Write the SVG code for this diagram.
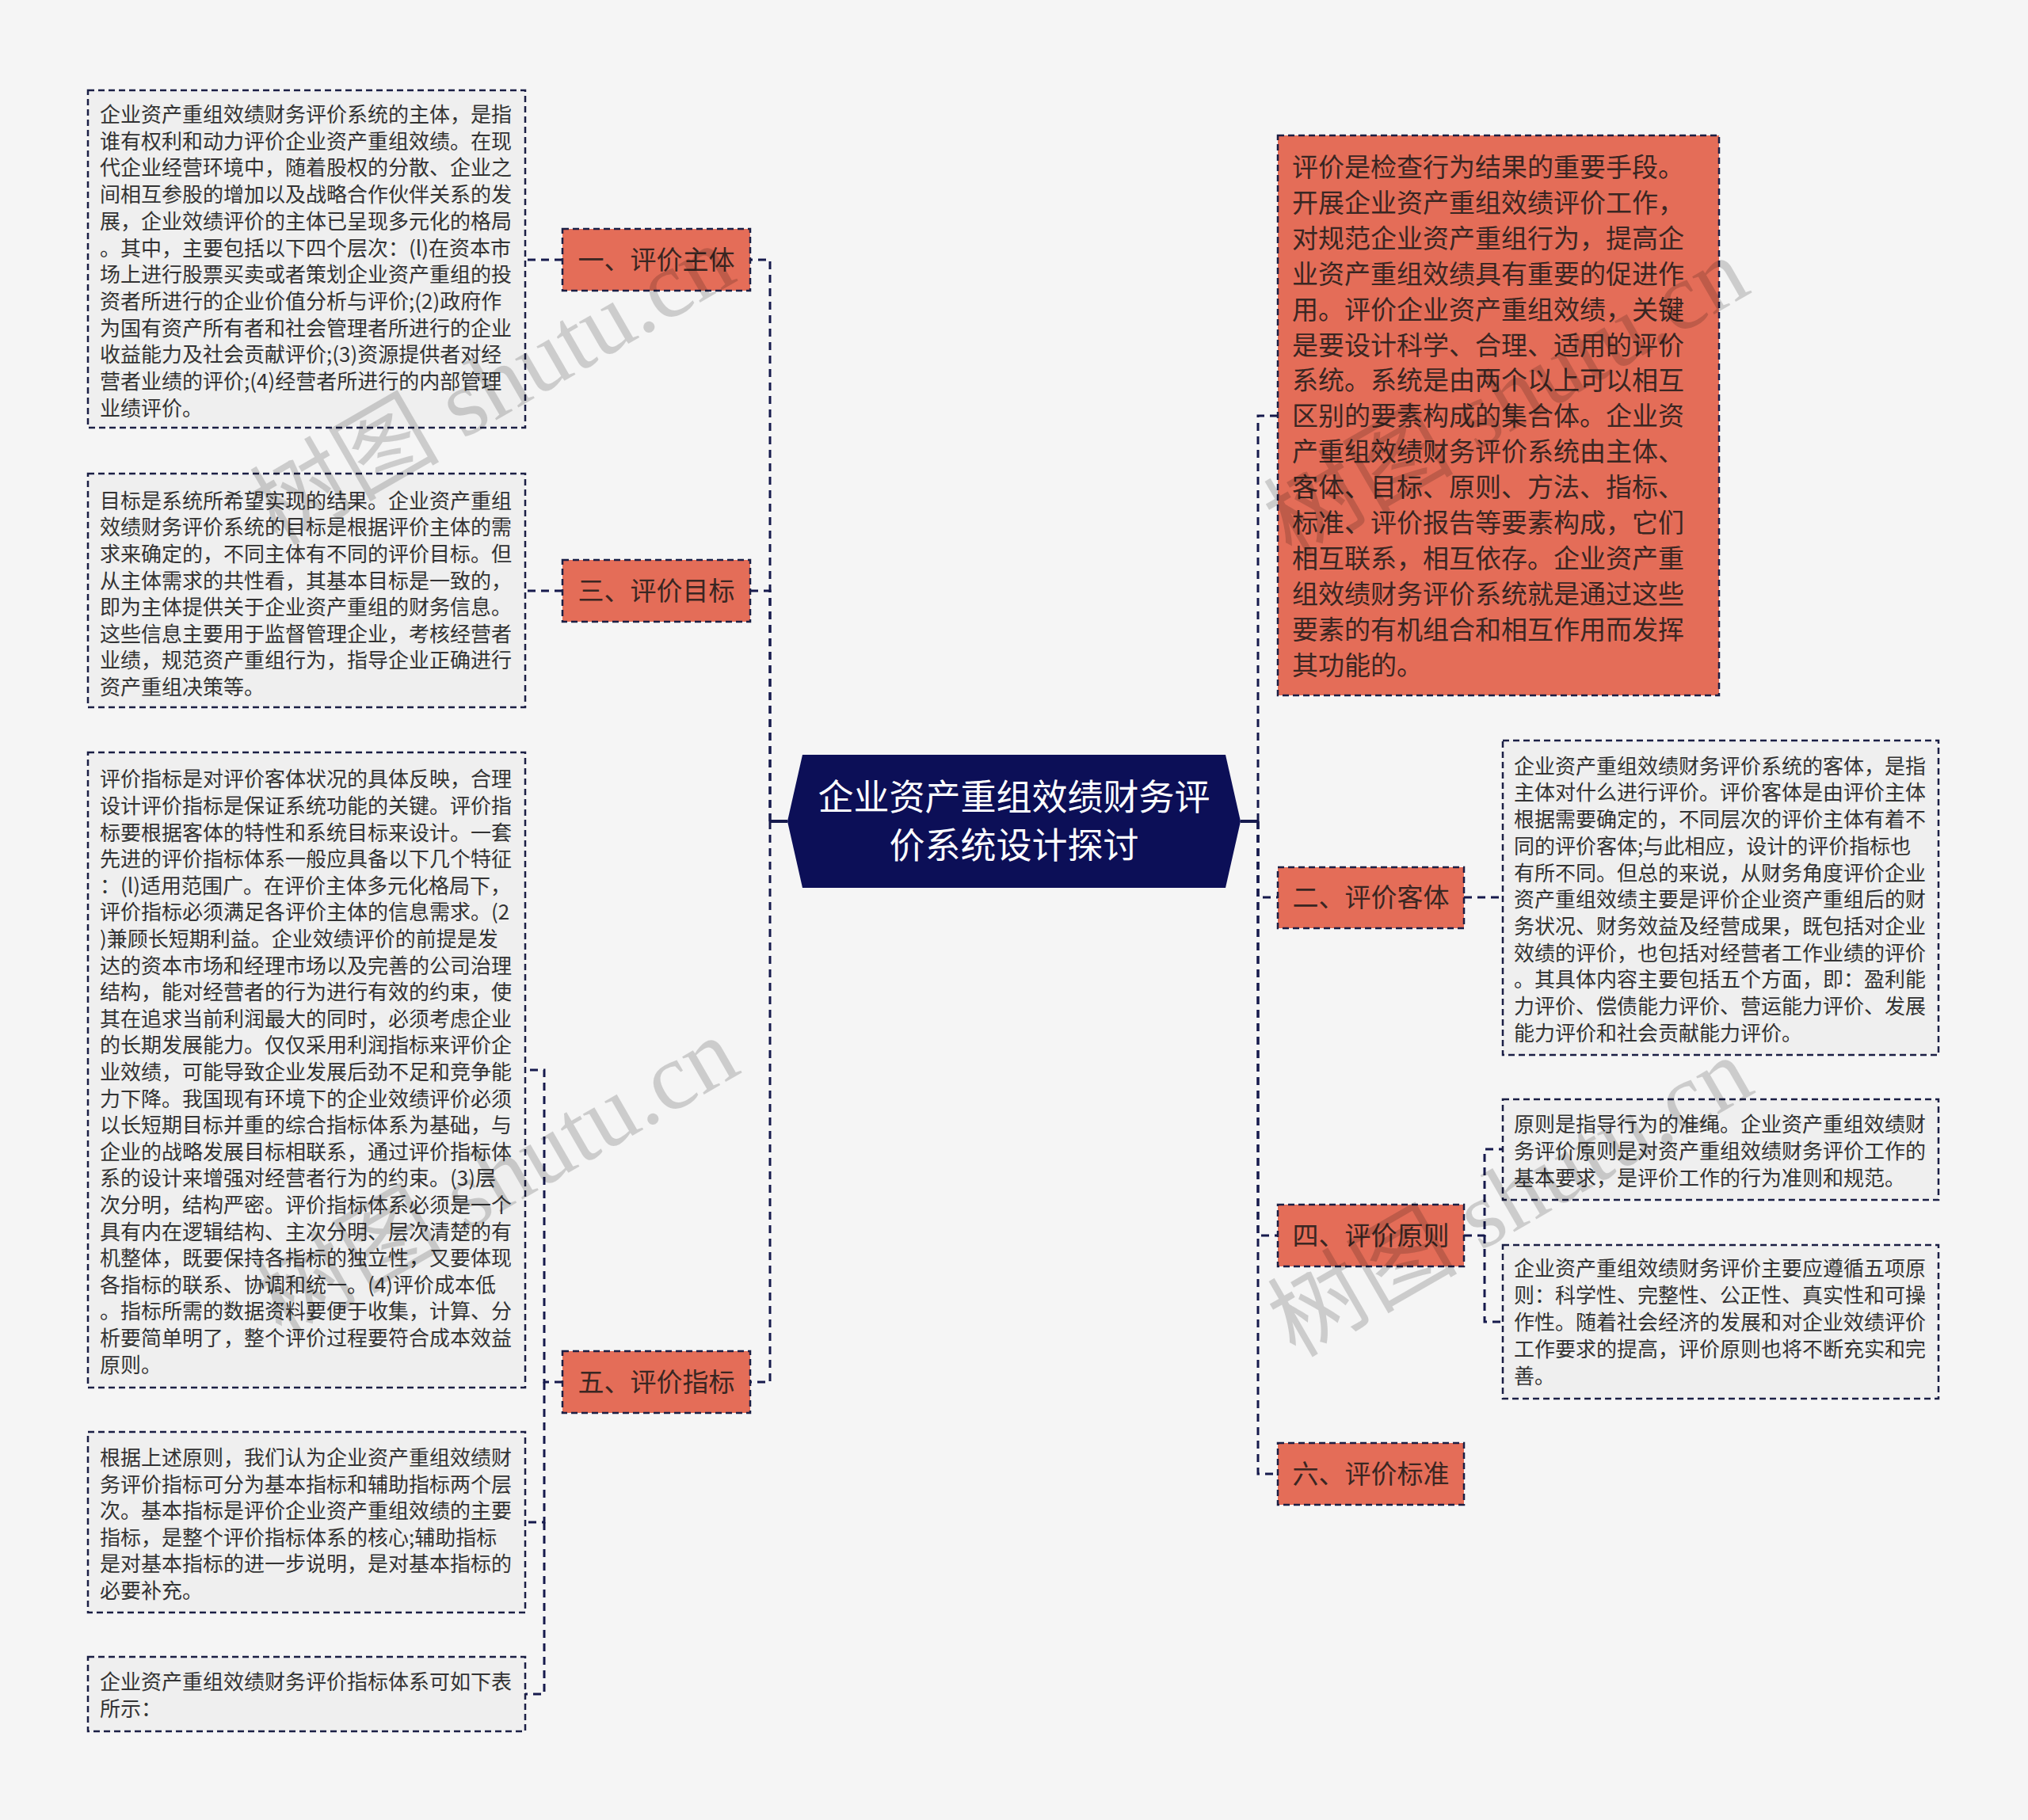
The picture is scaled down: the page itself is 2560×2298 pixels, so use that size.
<svg xmlns="http://www.w3.org/2000/svg" width="2560" height="2298" viewBox="0 0 2560 2298">
<style>
.bg{fill:#f5f5f5}
.conn{fill:none;stroke:#161a4d;stroke-width:3;stroke-dasharray:10 7}
.solid{fill:none;stroke:#161a4d;stroke-width:4}
.box{fill:#efefef;stroke:#1b1f45;stroke-width:2.5;stroke-dasharray:8 5}
.red{fill:#e46d58;stroke:#1b1f45;stroke-width:2.5;stroke-dasharray:8 5}
.t{font-family:"Noto Sans CJK SC","Noto Sans",sans-serif;font-size:26px;fill:#333}
.rt{font-family:"Noto Sans CJK SC","Noto Sans",sans-serif;font-size:33px;fill:#3a2622}
.lbl{font-family:"Noto Sans CJK SC","Noto Sans",sans-serif;font-size:33px;fill:#3a2622;text-anchor:middle}
.ct{font-family:"Noto Sans CJK SC","Noto Sans",sans-serif;font-size:45px;fill:#ffffff;text-anchor:middle}
.wm{font-family:"Liberation Serif","Noto Sans CJK SC",serif;font-size:120px;fill:#000;opacity:0.16}
</style>
<rect class="bg" x="0" y="0" width="2560" height="2298"/>

<g id="connectors">
<path class="solid" d="M994,1037 H972"/>
<path class="solid" d="M1566,1037 H1588"/>
<path class="conn" d="M972,1037 V328 H947"/>
<path class="conn" d="M972,1037 V746 H947"/>
<path class="conn" d="M972,1037 V1745 H947"/>
<path class="conn" d="M710,328 H663"/>
<path class="conn" d="M710,746 H663"/>
<path class="conn" d="M710,1745 H687 V1351 H663"/>
<path class="conn" d="M687,1745 V1922 H663"/>
<path class="conn" d="M687,1922 V2139 H663"/>
<path class="conn" d="M1588,1037 V525 H1613"/>
<path class="conn" d="M1588,1037 V1133 H1613"/>
<path class="conn" d="M1588,1037 V1560 H1613"/>
<path class="conn" d="M1588,1037 V1861 H1613"/>
<path class="conn" d="M1848,1133 H1897"/>
<path class="conn" d="M1848,1560 H1874 V1451 H1897"/>
<path class="conn" d="M1874,1560 V1669 H1897"/>
</g>

<g id="center">
<polygon points="1013,953 1547,953 1566,1037 1547,1121 1013,1121 994,1037" fill="#0c0f57"/>
<text class="ct" x="1280" y="1023">企业资产重组效绩财务评</text>
<text class="ct" x="1280" y="1084">价系统设计探讨</text>
</g>

<g id="node-zhuti">
<rect class="red" x="710" y="289" width="237" height="78"/>
<text class="lbl" x="828.5" y="340">一、评价主体</text>
</g>
<g id="node-mubiao">
<rect class="red" x="710" y="707" width="237" height="78"/>
<text class="lbl" x="828.5" y="758">三、评价目标</text>
</g>
<g id="node-zhibiao">
<rect class="red" x="710" y="1706" width="237" height="78"/>
<text class="lbl" x="828.5" y="1757">五、评价指标</text>
</g>
<g id="node-keti">
<rect class="red" x="1613" y="1095" width="235" height="77"/>
<text class="lbl" x="1730.5" y="1145">二、评价客体</text>
</g>
<g id="node-yuanze">
<rect class="red" x="1613" y="1521" width="235" height="78"/>
<text class="lbl" x="1730.5" y="1572">四、评价原则</text>
</g>
<g id="node-biaozhun">
<rect class="red" x="1613" y="1822" width="235" height="78"/>
<text class="lbl" x="1730.5" y="1873">六、评价标准</text>
</g>

<g id="node-intro">
<rect class="red" x="1613" y="171" width="557" height="707"/>
<text class="rt">
<tspan x="1631" y="223">评价是检查行为结果的重要手段。</tspan>
<tspan x="1631" y="267.9">开展企业资产重组效绩评价工作，</tspan>
<tspan x="1631" y="312.8">对规范企业资产重组行为，提高企</tspan>
<tspan x="1631" y="357.7">业资产重组效绩具有重要的促进作</tspan>
<tspan x="1631" y="402.6">用。评价企业资产重组效绩，关键</tspan>
<tspan x="1631" y="447.5">是要设计科学、合理、适用的评价</tspan>
<tspan x="1631" y="492.4">系统。系统是由两个以上可以相互</tspan>
<tspan x="1631" y="537.3">区别的要素构成的集合体。企业资</tspan>
<tspan x="1631" y="582.2">产重组效绩财务评价系统由主体、</tspan>
<tspan x="1631" y="627.1">客体、目标、原则、方法、指标、</tspan>
<tspan x="1631" y="672">标准、评价报告等要素构成，它们</tspan>
<tspan x="1631" y="716.9">相互联系，相互依存。企业资产重</tspan>
<tspan x="1631" y="761.8">组效绩财务评价系统就是通过这些</tspan>
<tspan x="1631" y="806.7">要素的有机组合和相互作用而发挥</tspan>
<tspan x="1631" y="851.6">其功能的。</tspan>
</text>
</g>

<g id="text-zhuti">
<rect class="box" x="111" y="114" width="552" height="426"/>
<text class="t">
<tspan x="126" y="154">企业资产重组效绩财务评价系统的主体，是指</tspan>
<tspan x="126" y="187.7">谁有权利和动力评价企业资产重组效绩。在现</tspan>
<tspan x="126" y="221.4">代企业经营环境中，随着股权的分散、企业之</tspan>
<tspan x="126" y="255.1">间相互参股的增加以及战略合作伙伴关系的发</tspan>
<tspan x="126" y="288.8">展，企业效绩评价的主体已呈现多元化的格局</tspan>
<tspan x="126" y="322.5">。其中，主要包括以下四个层次：(l)在资本市</tspan>
<tspan x="126" y="356.2">场上进行股票买卖或者策划企业资产重组的投</tspan>
<tspan x="126" y="389.9">资者所进行的企业价值分析与评价;(2)政府作</tspan>
<tspan x="126" y="423.6">为国有资产所有者和社会管理者所进行的企业</tspan>
<tspan x="126" y="457.3">收益能力及社会贡献评价;(3)资源提供者对经</tspan>
<tspan x="126" y="491">营者业绩的评价;(4)经营者所进行的内部管理</tspan>
<tspan x="126" y="524.7">业绩评价。</tspan>
</text>
</g>

<g id="text-mubiao">
<rect class="box" x="111" y="598" width="552" height="295"/>
<text class="t">
<tspan x="126" y="641.7">目标是系统所希望实现的结果。企业资产重组</tspan>
<tspan x="126" y="675.3">效绩财务评价系统的目标是根据评价主体的需</tspan>
<tspan x="126" y="708.9">求来确定的，不同主体有不同的评价目标。但</tspan>
<tspan x="126" y="742.5">从主体需求的共性看，其基本目标是一致的，</tspan>
<tspan x="126" y="776.1">即为主体提供关于企业资产重组的财务信息。</tspan>
<tspan x="126" y="809.7">这些信息主要用于监督管理企业，考核经营者</tspan>
<tspan x="126" y="843.3">业绩，规范资产重组行为，指导企业正确进行</tspan>
<tspan x="126" y="876.9">资产重组决策等。</tspan>
</text>
</g>

<g id="text-zhibiao1">
<rect class="box" x="111" y="950" width="552" height="802"/>
<text class="t">
<tspan x="126" y="993.3">评价指标是对评价客体状况的具体反映，合理</tspan>
<tspan x="126" y="1026.9">设计评价指标是保证系统功能的关键。评价指</tspan>
<tspan x="126" y="1060.5">标要根据客体的特性和系统目标来设计。一套</tspan>
<tspan x="126" y="1094.1">先进的评价指标体系一般应具备以下几个特征</tspan>
<tspan x="126" y="1127.7">：(l)适用范围广。在评价主体多元化格局下，</tspan>
<tspan x="126" y="1161.3">评价指标必须满足各评价主体的信息需求。(2</tspan>
<tspan x="126" y="1194.9">)兼顾长短期利益。企业效绩评价的前提是发</tspan>
<tspan x="126" y="1228.5">达的资本市场和经理市场以及完善的公司治理</tspan>
<tspan x="126" y="1262.1">结构，能对经营者的行为进行有效的约束，使</tspan>
<tspan x="126" y="1295.7">其在追求当前利润最大的同时，必须考虑企业</tspan>
<tspan x="126" y="1329.3">的长期发展能力。仅仅采用利润指标来评价企</tspan>
<tspan x="126" y="1362.9">业效绩，可能导致企业发展后劲不足和竞争能</tspan>
<tspan x="126" y="1396.5">力下降。我国现有环境下的企业效绩评价必须</tspan>
<tspan x="126" y="1430.1">以长短期目标并重的综合指标体系为基础，与</tspan>
<tspan x="126" y="1463.7">企业的战略发展目标相联系，通过评价指标体</tspan>
<tspan x="126" y="1497.3">系的设计来增强对经营者行为的约束。(3)层</tspan>
<tspan x="126" y="1530.9">次分明，结构严密。评价指标体系必须是一个</tspan>
<tspan x="126" y="1564.5">具有内在逻辑结构、主次分明、层次清楚的有</tspan>
<tspan x="126" y="1598.1">机整体，既要保持各指标的独立性，又要体现</tspan>
<tspan x="126" y="1631.7">各指标的联系、协调和统一。(4)评价成本低</tspan>
<tspan x="126" y="1665.3">。指标所需的数据资料要便于收集，计算、分</tspan>
<tspan x="126" y="1698.9">析要简单明了，整个评价过程要符合成本效益</tspan>
<tspan x="126" y="1732.5">原则。</tspan>
</text>
</g>

<g id="text-zhibiao2">
<rect class="box" x="111" y="1808" width="552" height="228"/>
<text class="t">
<tspan x="126" y="1850">根据上述原则，我们认为企业资产重组效绩财</tspan>
<tspan x="126" y="1883.6">务评价指标可分为基本指标和辅助指标两个层</tspan>
<tspan x="126" y="1917.2">次。基本指标是评价企业资产重组效绩的主要</tspan>
<tspan x="126" y="1950.8">指标，是整个评价指标体系的核心;辅助指标</tspan>
<tspan x="126" y="1984.4">是对基本指标的进一步说明，是对基本指标的</tspan>
<tspan x="126" y="2018">必要补充。</tspan>
</text>
</g>

<g id="text-zhibiao3">
<rect class="box" x="111" y="2092" width="552" height="94"/>
<text class="t">
<tspan x="126" y="2133.3">企业资产重组效绩财务评价指标体系可如下表</tspan>
<tspan x="126" y="2167">所示：</tspan>
</text>
</g>

<g id="text-keti">
<rect class="box" x="1897" y="935" width="550" height="397"/>
<text class="t">
<tspan x="1911" y="976.7">企业资产重组效绩财务评价系统的客体，是指</tspan>
<tspan x="1911" y="1010.4">主体对什么进行评价。评价客体是由评价主体</tspan>
<tspan x="1911" y="1044.1">根据需要确定的，不同层次的评价主体有着不</tspan>
<tspan x="1911" y="1077.8">同的评价客体;与此相应，设计的评价指标也</tspan>
<tspan x="1911" y="1111.5">有所不同。但总的来说，从财务角度评价企业</tspan>
<tspan x="1911" y="1145.2">资产重组效绩主要是评价企业资产重组后的财</tspan>
<tspan x="1911" y="1178.9">务状况、财务效益及经营成果，既包括对企业</tspan>
<tspan x="1911" y="1212.6">效绩的评价，也包括对经营者工作业绩的评价</tspan>
<tspan x="1911" y="1246.3">。其具体内容主要包括五个方面，即：盈利能</tspan>
<tspan x="1911" y="1280">力评价、偿债能力评价、营运能力评价、发展</tspan>
<tspan x="1911" y="1313.7">能力评价和社会贡献能力评价。</tspan>
</text>
</g>

<g id="text-yuanze1">
<rect class="box" x="1897" y="1388" width="550" height="127"/>
<text class="t">
<tspan x="1911" y="1429.3">原则是指导行为的准绳。企业资产重组效绩财</tspan>
<tspan x="1911" y="1463">务评价原则是对资产重组效绩财务评价工作的</tspan>
<tspan x="1911" y="1496.7">基本要求，是评价工作的行为准则和规范。</tspan>
</text>
</g>

<g id="text-yuanze2">
<rect class="box" x="1897" y="1572" width="550" height="194"/>
<text class="t">
<tspan x="1911" y="1611">企业资产重组效绩财务评价主要应遵循五项原</tspan>
<tspan x="1911" y="1644.9">则：科学性、完整性、公正性、真实性和可操</tspan>
<tspan x="1911" y="1678.8">作性。随着社会经济的发展和对企业效绩评价</tspan>
<tspan x="1911" y="1712.7">工作要求的提高，评价原则也将不断充实和完</tspan>
<tspan x="1911" y="1746.6">善。</tspan>
</text>
</g>

<g id="watermarks">
<text class="wm" transform="translate(350,690) rotate(-30)">树图 shutu.cn</text>
<text class="wm" transform="translate(355,1690) rotate(-30)">树图 shutu.cn</text>
<text class="wm" transform="translate(1630,705) rotate(-30)">树图 shutu.cn</text>
<text class="wm" transform="translate(1635,1715) rotate(-30)">树图 shutu.cn</text>
</g>
</svg>
